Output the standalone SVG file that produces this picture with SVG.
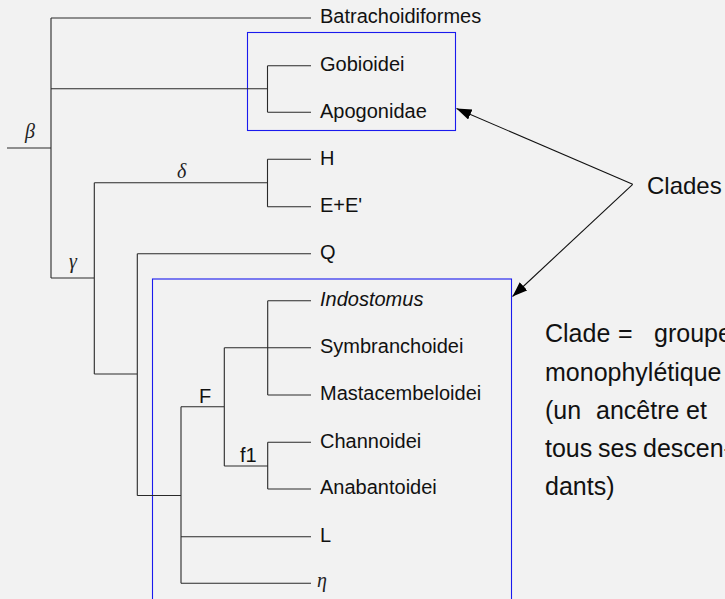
<svg xmlns="http://www.w3.org/2000/svg" width="725" height="599" viewBox="0 0 725 599">
<style>
.bg{fill:#f2f2f2}
.tree{fill:none;stroke:#2a2a2a;stroke-width:1.1}
.box{fill:none;stroke:#1a1aee;stroke-width:1.1}
.lbl{font-family:"Liberation Sans",Arial,sans-serif;font-size:20px;fill:#111}
.it{font-style:italic}
.greek{font-family:"Liberation Serif","DejaVu Serif",serif;font-style:italic;font-size:20px;fill:#222}
.big{font-family:"Liberation Sans",Arial,sans-serif;font-size:24px;fill:#111}
.para{font-family:"Liberation Sans",Arial,sans-serif;font-size:25px;fill:#111}
.arr{fill:none;stroke:#111;stroke-width:1.1}
</style>
<defs>
<marker id="ah" markerUnits="userSpaceOnUse" markerWidth="16" markerHeight="12" refX="15" refY="5.5" orient="auto">
<path d="M0,0 L15,5.5 L0,11 z" fill="#000"/>
</marker>
</defs>
<rect class="bg" x="0" y="0" width="725" height="599"/>

<g id="boxes">
<rect id="box-top" class="box" x="247.5" y="32.5" width="208" height="98"/>
<rect id="box-bottom" class="box" x="152.5" y="279" width="359" height="330"/>
</g>

<g id="connectors">
<path class="tree" d="M7,148 H51 M51,18 V278 M51,18 H311 M51,88.7 H267.5 M267.5,65.7 V112.3 M267.5,65.7 H311 M267.5,112.3 H311"/>
<path class="tree" d="M51,278 H94.3 M94.3,182.7 V374 M94.3,182.7 H267.5 M267.5,159.3 V206.7 M267.5,159.3 H311 M267.5,206.7 H311"/>
<path class="tree" d="M94.3,374 H137.3 M137.3,253.7 V495.5 M137.3,253.7 H311 M137.3,495.5 H181 M181,406.7 V583.3"/>
<path class="tree" d="M181,406.7 H224.3 M224.3,347.7 V466 M224.3,347.7 H311 M267.7,300.7 V395 M267.7,300.7 H311 M267.7,395 H311"/>
<path class="tree" d="M224.3,466 H267.7 M267.7,442.3 V489 M267.7,442.3 H311 M267.7,489 H311 M181,536.7 H311 M181,583.3 H311"/>
<path class="arr" d="M632.7,184.3 L456.5,108.5" marker-end="url(#ah)"/>
<path class="arr" d="M632.7,184.3 L512.5,296.5" marker-end="url(#ah)"/>
</g>

<g id="n-beta"><text class="greek" x="25" y="138">β</text></g>
<g id="n-gamma"><text class="greek" x="69" y="268">γ</text></g>
<g id="n-delta"><text class="greek" x="177" y="178">δ</text></g>
<g id="n-F"><text class="lbl" x="199" y="402.7">F</text></g>
<g id="n-f1"><text class="lbl" x="240" y="461.7">f1</text></g>

<g id="leaf-batrachoidiformes"><text class="lbl" x="320" y="23.3">Batrachoidiformes</text></g>
<g id="leaf-gobioidei"><text class="lbl" x="320" y="71">Gobioidei</text></g>
<g id="leaf-apogonidae"><text class="lbl" x="320" y="117.6">Apogonidae</text></g>
<g id="leaf-H"><text class="lbl" x="320" y="164.6">H</text></g>
<g id="leaf-EE"><text class="lbl" x="320" y="212">E+E'</text></g>
<g id="leaf-Q"><text class="lbl" x="320" y="259">Q</text></g>
<g id="leaf-indostomus"><text class="lbl it" x="320" y="306">Indostomus</text></g>
<g id="leaf-symbranchoidei"><text class="lbl" x="320" y="353">Symbranchoidei</text></g>
<g id="leaf-mastacembeloidei"><text class="lbl" x="320" y="400.3">Mastacembeloidei</text></g>
<g id="leaf-channoidei"><text class="lbl" x="320" y="447.6">Channoidei</text></g>
<g id="leaf-anabantoidei"><text class="lbl" x="320" y="494.3">Anabantoidei</text></g>
<g id="leaf-L"><text class="lbl" x="320" y="542">L</text></g>
<g id="leaf-eta"><text class="greek" x="317" y="587">η</text></g>

<g id="clades-label"><text class="big" x="647" y="194">Clades</text></g>

<g id="definition">
<text class="para" y="342"><tspan x="545">Clade</tspan><tspan x="618">=</tspan><tspan x="654">groupe</tspan></text>
<text class="para" x="545" y="380.5">monophylétique</text>
<text class="para" y="418.5"><tspan x="545">(un</tspan><tspan x="596">ancêtre</tspan><tspan x="686">et</tspan></text>
<text class="para" y="456.5"><tspan x="545">tous</tspan><tspan x="598">ses</tspan><tspan x="643">descen-</tspan></text>
<text class="para" x="545" y="494.5">dants)</text>
</g>
</svg>
